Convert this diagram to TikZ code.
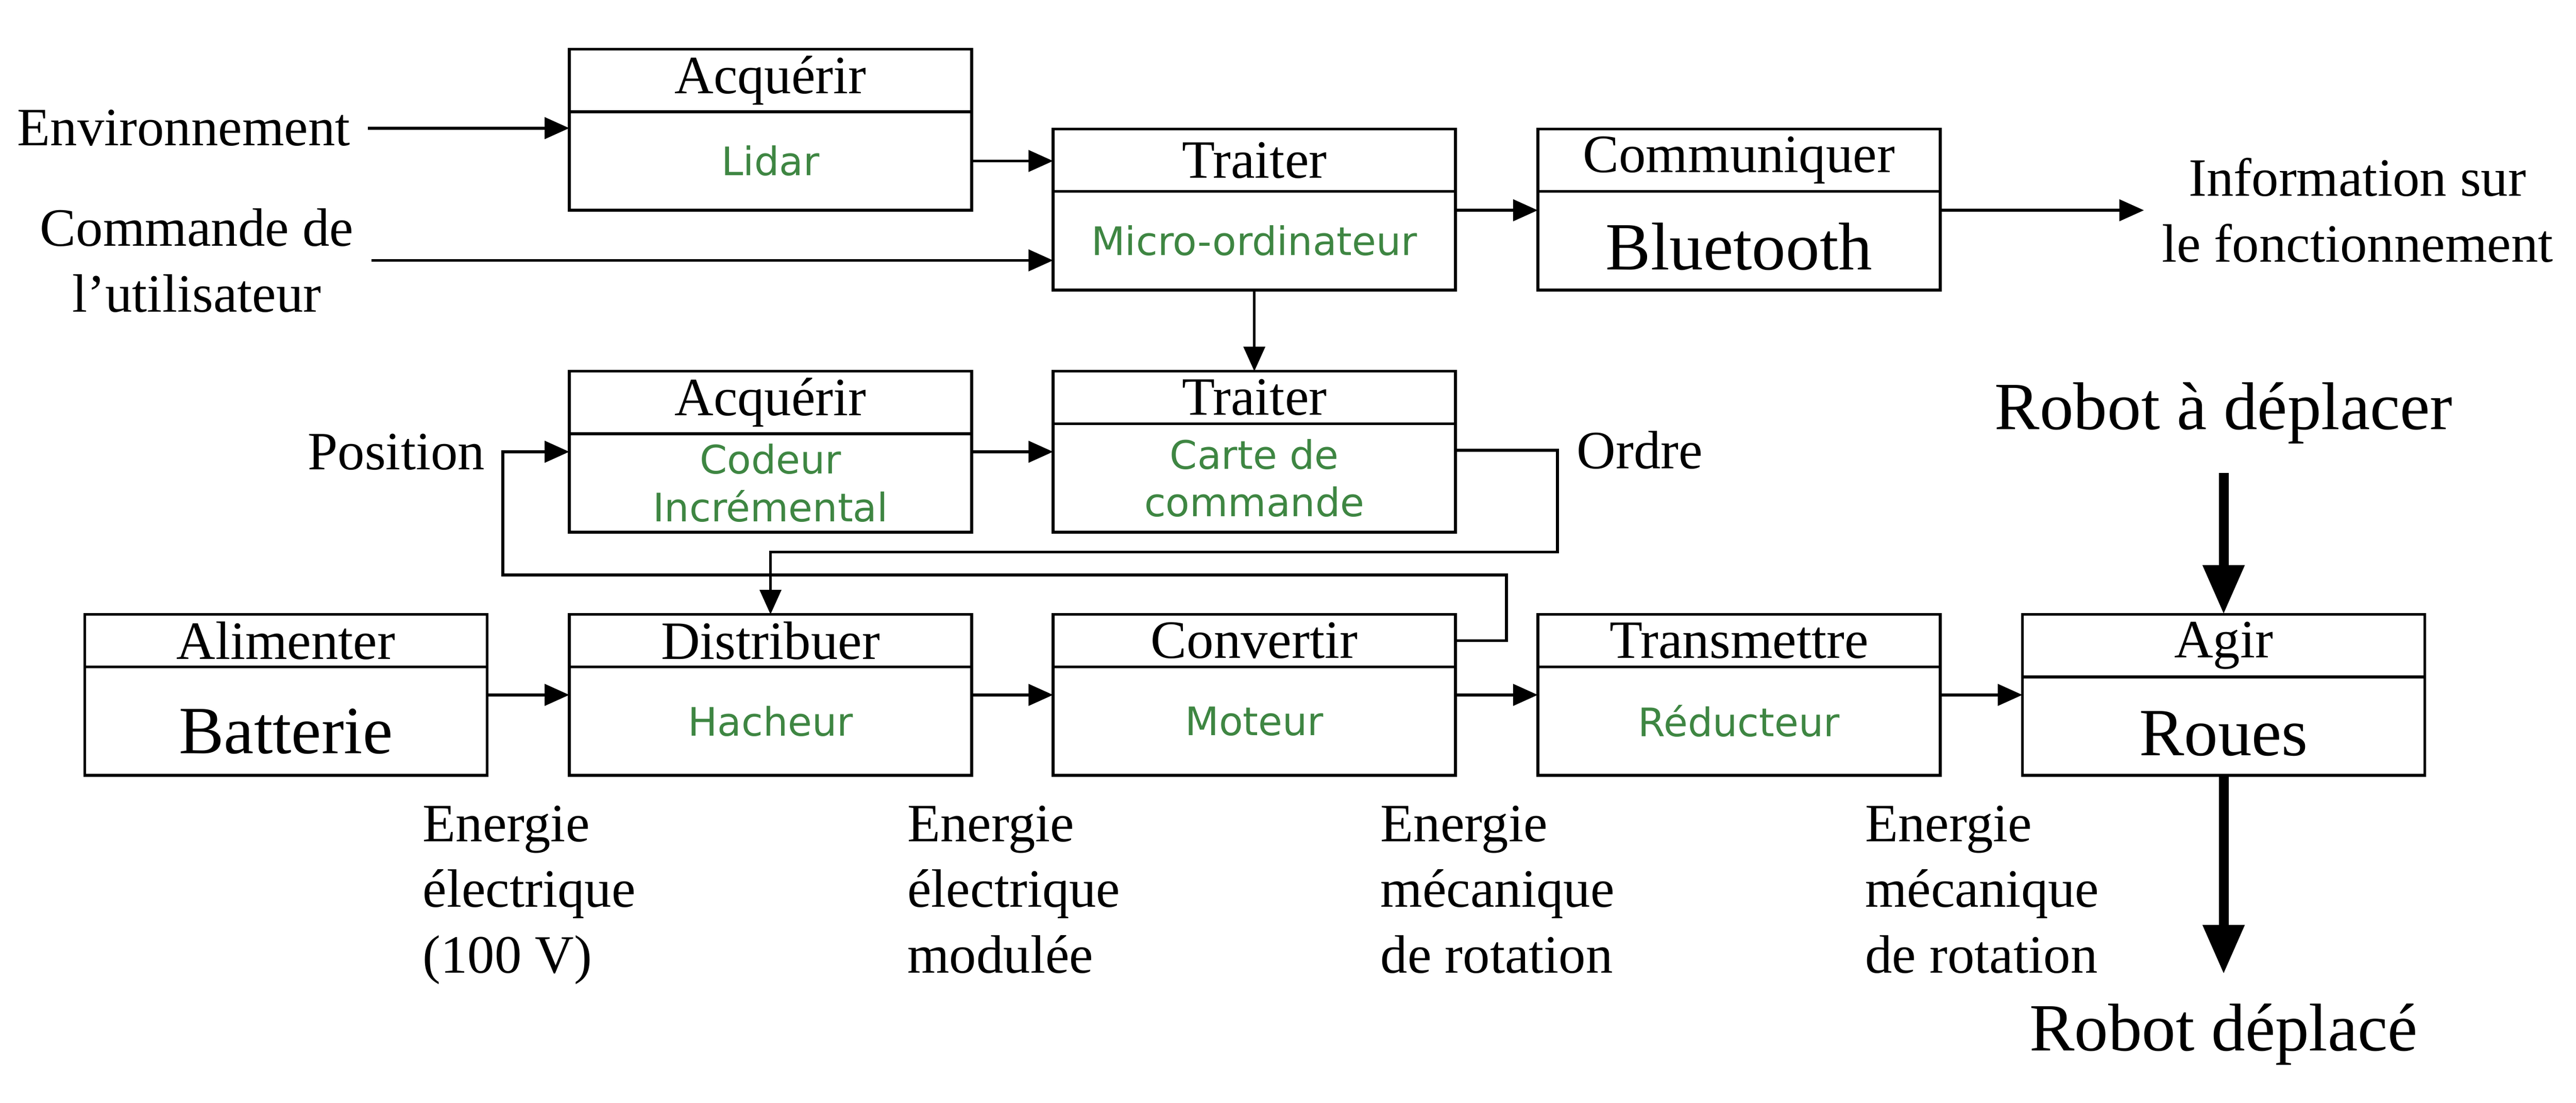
\documentclass[tikz,border=0pt]{standalone}
\usepackage{fontspec}
\setmainfont{Liberation Serif}
\newfontfamily\vertfont{DejaVu Sans}
\usepackage{xcolor}
\usepackage{tikz}
\usetikzlibrary{positioning,arrows.meta}
\definecolor{vertbloc}{RGB}{62,134,66}

\begin{document}
\begin{tikzpicture}[
    x=0.02cm, y=-0.02cm,
    titre/.style={rectangle, draw, line width=1pt, outer sep=0pt, inner sep=0pt, minimum width=4.9cm, minimum height=0.76cm, font=\fontsize{18.7}{22.8}\selectfont},
    titrebas/.style={titre, minimum height=0.64cm},
    corps/.style={rectangle, draw, line width=1pt, outer sep=0pt, inner sep=0pt, minimum width=4.9cm, minimum height=1.2cm, align=center, text=vertbloc, font=\vertfont\fontsize{13.6}{16.5}\selectfont},
    corpsbas/.style={corps, minimum height=1.32cm},
    grand/.style={text=black, font=\fontsize{23.4}{28}\selectfont},
    corpsgrand/.style={grand, text height=0.72cm},
    texte/.style={inner sep=6pt, align=center, font=\fontsize{18.7}{22.8}\selectfont},
    energie/.style={inner sep=0pt, anchor=north west, align=left, font=\fontsize{18.7}{22.8}\selectfont},
    arrow/.style={-{Triangle[length=0.3cm, width=0.26cm]}, line width=1pt},
    grosse/.style={-{Triangle[length=0.6cm, width=0.48cm]}, line width=3.4pt}
]
\useasboundingbox (0,0) rectangle (1568,671.4);

% Acquerir (Lidar)
\node[titre] (acq1) at (469,49) {Acquérir};
\node[corps, below=0pt of acq1] (lidar) {Lidar};

% Traiter (Micro-ordinateur)
\node[titre] (trait1) at (763.5,97.5) {Traiter};
\node[corps, below=0pt of trait1] (micro) {Micro-ordinateur};

% Communiquer
\node[titre] (comm) at (1058.5,97.5) {Communiquer};
\node[corps, corpsgrand, below=0pt of comm] (bluetooth) {Bluetooth};

% Acquerir (Codeur)
\node[titre] (acq2) at (469,245) {Acquérir};
\node[corps, below=0pt of acq2] (codeur) {Codeur\\Incrémental};

% Traiter (Carte de commande)
\node[titrebas] (trait2) at (763.5,242) {Traiter};
\node[corpsbas, below=0pt of trait2] (carte) {Carte de\\commande};

% Chaine d'energie
\node[titrebas] (alim) at (174,390) {Alimenter};
\node[corpsbas, corpsgrand, text height=0.8cm, below=0pt of alim] (batterie) {Batterie};
\node[titrebas] (distrib) at (469,390) {Distribuer};
\node[corpsbas, below=0pt of distrib] (hacheur) {Hacheur};
\node[titrebas] (conv) at (763.5,390) {Convertir};
\node[corpsbas, below=0pt of conv] (moteur) {Moteur};
\node[titrebas] (transm) at (1058.5,390) {Transmettre};
\node[corpsbas, below=0pt of transm] (reducteur) {Réducteur};
\node[titre] (agir) at (1353.5,393) {Agir};
\node[corps, corpsgrand, below=0pt of agir] (roues) {Roues};

% Entrees et sorties
\node[texte, anchor=east] (env) at (224,78) {Environnement};
\node[texte, anchor=east] (cmd) at (226,158.5) {Commande de\\l'utilisateur};
\node[texte, anchor=west] (info) at (1305,128) {Information sur\\le fonctionnement};
\node[texte, anchor=east] (pos) at (306,275) {Position};
\node[texte, anchor=west] (ordre) at (949,274) {Ordre};
\node[texte, grand, inner sep=10pt, anchor=south] (robotin) at (1353.5,288) {Robot à déplacer};
\node[texte, grand, inner sep=10pt, anchor=north] (robotout) at (1353.5,593) {Robot déplacé};

% Energies
\node[energie] (e1) at (257,490) {Energie\\électrique\\(100 V)};
\node[energie] (e2) at (552,490) {Energie\\électrique\\modulée};
\node[energie] (e3) at (840,490) {Energie\\mécanique\\de rotation};
\node[energie] (e4) at (1135,490) {Energie\\mécanique\\de rotation};

% Coins des retours
\coordinate (coinordre) at (948,336);
\coordinate (coinpos) at (917,350);

% Arrows
\draw[arrow] (env.east) -- (env.east -| lidar.west);
\draw[arrow] (cmd.east) -- (cmd.east -| micro.west);
\draw[arrow] (lidar.east) -- (lidar.east -| trait1.west);
\draw[arrow] (micro.east |- info.west) -- (bluetooth.west |- info.west);
\draw[arrow] (bluetooth.east |- info.west) -- (info.west);
\draw[arrow] (micro.south) -- (trait2.north);
\draw[arrow] (codeur.east |- pos.east) -- (carte.west |- pos.east);
\draw[arrow] (carte.east |- ordre.west) -| (coinordre) -| (distrib.north);
\draw[arrow] (conv.east) -| (coinpos) -| (pos.east) -- (pos.east -| codeur.west);
\draw[arrow] ([yshift=0.32cm]batterie.east) -- ([yshift=0.32cm]hacheur.west);
\draw[arrow] ([yshift=0.32cm]hacheur.east) -- ([yshift=0.32cm]moteur.west);
\draw[arrow] ([yshift=0.32cm]moteur.east) -- ([yshift=0.32cm]reducteur.west);
\draw[arrow] ([yshift=0.32cm]reducteur.east) -- ([yshift=0.32cm]reducteur.east -| roues.west);
\draw[grosse] (robotin.south) -- (agir.north);
\draw[grosse] (roues.south) -- (robotout.north);

\end{tikzpicture}
\end{document}
